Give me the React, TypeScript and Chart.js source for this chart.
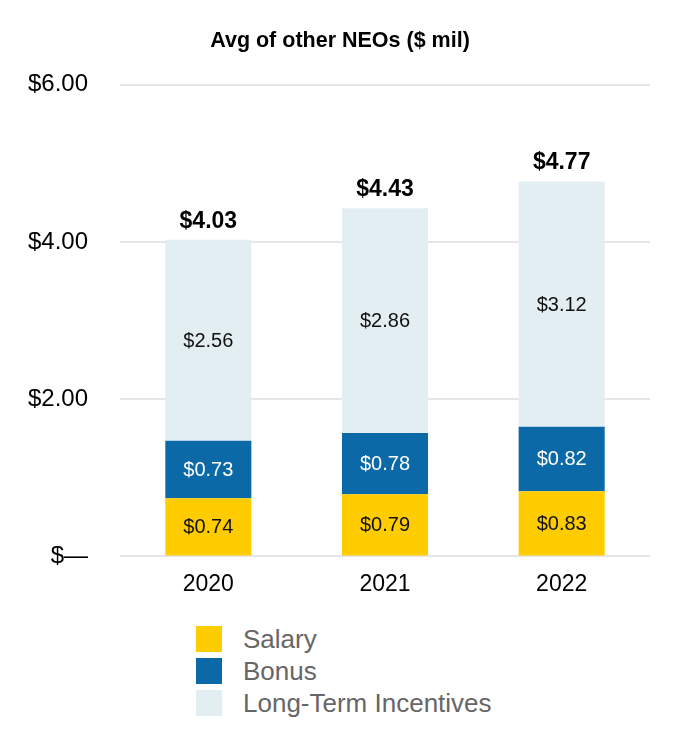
import React, { useEffect, useRef } from "react";
import { Chart, registerables } from "chart.js";

Chart.register(...registerables);

const years = ["2020", "2021", "2022"];
const salary = [0.74, 0.79, 0.83];
const bonus = [0.73, 0.78, 0.82];
const longTerm = [2.56, 2.86, 3.12];
const totals = [4.03, 4.43, 4.77];
const seriesNames = ["Salary", "Bonus", "Long-Term Incentives"];
const seriesColors = ["#FFCC00", "#0A69A6", "#E3EEF3"];
const labelColors = ["#111111", "#FFFFFF", "#111111"];
const titleText = "Avg of other NEOs ($ mil)";
const FONT = '"Liberation Sans", Arial, Helvetica, sans-serif';

const labelPlugin = {
  id: "segLabels",
  afterDatasetsDraw(chart: any) {
    const ctx = chart.ctx;
    ctx.save();
    ctx.textAlign = "center";
    chart.data.datasets.forEach((ds: any, di: number) => {
      const meta = chart.getDatasetMeta(di);
      meta.data.forEach((el: any, i: number) => {
        const v = ds.data[i];
        ctx.fillStyle = labelColors[di];
        ctx.font = `20px ${FONT}`;
        ctx.textBaseline = "middle";
        ctx.fillText("$" + v.toFixed(2), el.x, (el.y + el.base) / 2 + 1);
      });
    });
    const last = chart.getDatasetMeta(chart.data.datasets.length - 1);
    last.data.forEach((el: any, i: number) => {
      ctx.fillStyle = "#000000";
      ctx.font = `bold 23px ${FONT}`;
      ctx.textBaseline = "alphabetic";
      ctx.fillText("$" + totals[i].toFixed(2), el.x, el.y - 12);
    });
    ctx.restore();
  },
};

export default function App() {
  const ref = useRef<HTMLCanvasElement>(null);
  useEffect(() => {
    if (!ref.current) return;
    const chart = new Chart(ref.current, {
      type: "bar",
      data: {
        labels: years,
        datasets: [
          { label: seriesNames[0], data: salary, backgroundColor: seriesColors[0] },
          { label: seriesNames[1], data: bonus, backgroundColor: seriesColors[1] },
          { label: seriesNames[2], data: longTerm, backgroundColor: seriesColors[2] },
        ],
      },
      options: {
        animation: false,
        responsive: true,
        maintainAspectRatio: false,
        layout: { padding: { left: 0, right: 0, top: 0, bottom: 15 } },
        datasets: { bar: { categoryPercentage: 1, barPercentage: 0.487 } },
        plugins: {
          legend: { display: false },
          tooltip: { enabled: false },
          title: {
            display: true,
            text: titleText,
            color: "#000000",
            font: { family: FONT, size: 21.5, weight: "bold", lineHeight: 1.2 },
            padding: { top: 28, bottom: 31 },
          },
        },
        scales: {
          x: {
            stacked: true,
            grid: { display: false },
            border: { display: false },
            ticks: { color: "#000000", font: { family: FONT, size: 23 }, padding: 6 },
          },
          y: {
            stacked: true,
            min: 0,
            max: 6,
            afterFit: (s: any) => {
              s.width = 120;
            },
            grid: { color: "#E6E6E6", lineWidth: 2, drawTicks: false },
            border: { display: false },
            ticks: {
              stepSize: 2,
              padding: 32,
              color: "#000000",
              font: { family: FONT, size: 24 },
              callback: (v: any) => (v === 0 ? "$\u2014" : "$" + Number(v).toFixed(2)),
            },
          },
          yRight: {
            position: "right",
            min: 0,
            max: 6,
            grid: { display: false, drawTicks: false },
            border: { display: false },
            ticks: { display: false },
            afterFit: (s: any) => {
              s.width = 30;
            },
          },
        },
      },
      plugins: [labelPlugin],
    });
    return () => chart.destroy();
  }, []);

  return (
    <div style={{ position: "absolute", left: 0, top: 0, width: 680, height: 750, background: "#fff", fontFamily: FONT }}>
      <div style={{ position: "relative", width: 680, height: 619 }}>
        <canvas ref={ref} />
      </div>
      <div style={{ position: "absolute", left: 196, top: 626 }}>
        {seriesNames.map((n, i) => (
          <div key={n} style={{ display: "flex", alignItems: "center", height: 26, marginBottom: 6 }}>
            <div style={{ width: 26, height: 26, background: seriesColors[i], marginRight: 21 }} />
            <span style={{ fontSize: 26, color: "#666666", lineHeight: "26px" }}>{n}</span>
          </div>
        ))}
      </div>
    </div>
  );
}
